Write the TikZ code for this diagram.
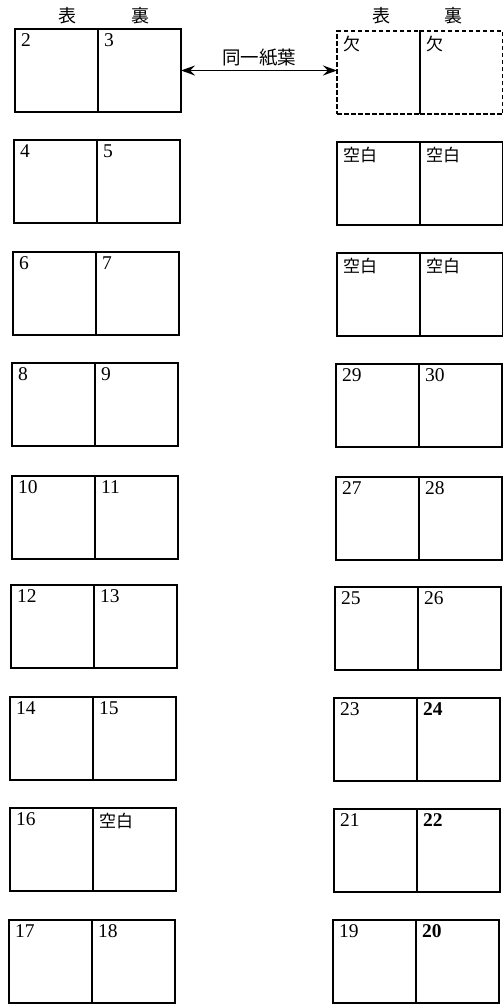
\documentclass[tikz,border=0pt]{standalone}
\usepackage{fontspec}
\setmainfont{Liberation Serif}
\newfontfamily\cjk{Noto Sans CJK JP}
\usetikzlibrary{arrows.meta}
\tikzset{
  cell/.style={draw, line width=1.3pt, minimum width=83pt, minimum height=83pt,
    anchor=north west, inner sep=0pt, outer sep=0pt},
  gone/.style={cell, dashed, dash pattern=on 4.5pt off 2.5pt},
  num/.style={anchor=north west, inner sep=0pt, font=\fontsize{19.5}{19.5}\selectfont},
  jp/.style={anchor=north west, inner sep=0pt, font=\cjk\fontsize{17}{17}\selectfont},
  head/.style={inner sep=0pt, font=\cjk\fontsize{18}{18}\selectfont},
  link/.style={line width=1.3pt, {Stealth[length=14pt,width=10pt,inset=5pt]}-{Stealth[length=14pt,width=10pt,inset=5pt]}}
}
% \leafpair{name}{x}{y}{text a}{text b}{style a}{style b}{cellstyle}
\newcommand{\leafpair}[8]{%
  \node[#8] (#1a) at (#2,#3) {};
  \node[#8] (#1b) at (#2+83,#3) {};
  \node[#6] (#1at) at ([xshift=6pt,yshift=-4.5pt]#1a.north west) {#4};
  \node[#7] (#1bt) at ([xshift=6pt,yshift=-4.5pt]#1b.north west) {#5};
}
\begin{document}
\begin{tikzpicture}[x=1pt,y=-1pt]
\useasboundingbox (0,0) rectangle (503,1004);
% headers
\node[head] (hL1) at (67,16) {表};
\node[head] (hL2) at (140,16) {裏};
\node[head] (hR1) at (381,16) {表};
\node[head] (hR2) at (453,16) {裏};
% left column
\leafpair{L1}{15}{29}{2}{3}{num}{num}{cell}
\leafpair{L2}{14}{140}{4}{5}{num}{num}{cell}
\leafpair{L3}{13}{252}{6}{7}{num}{num}{cell}
\leafpair{L4}{12}{363}{8}{9}{num}{num}{cell}
\leafpair{L5}{12}{476}{10}{11}{num}{num}{cell}
\leafpair{L6}{11}{585}{12}{13}{num}{num}{cell}
\leafpair{L7}{10}{697}{14}{15}{num}{num}{cell}
\leafpair{L8}{10}{808}{16}{空白}{num}{jp}{cell}
\leafpair{L9}{9}{920}{17}{18}{num}{num}{cell}
% right column
\leafpair{R1}{337}{31}{欠}{欠}{jp}{jp}{gone}
\leafpair{R2}{337}{142}{空白}{空白}{jp}{jp}{cell}
\leafpair{R3}{337}{253}{空白}{空白}{jp}{jp}{cell}
\leafpair{R4}{336}{364}{29}{30}{num}{num}{cell}
\leafpair{R5}{336}{477}{27}{28}{num}{num}{cell}
\leafpair{R6}{335}{587}{25}{26}{num}{num}{cell}
\leafpair{R7}{334}{698}{23}{\textbf{24}}{num}{num}{cell}
\leafpair{R8}{334}{809}{21}{\textbf{22}}{num}{num}{cell}
\leafpair{R9}{333}{920}{19}{\textbf{20}}{num}{num}{cell}
% same sheet link
\coordinate (arrR) at (L1b.east -| R1a.west);
\draw[link] (L1b.east) -- (arrR);
\node[inner sep=0pt, font=\cjk\fontsize{18.5}{18.5}\selectfont] (same) at (259,58) {同一紙葉};
\end{tikzpicture}
\end{document}
